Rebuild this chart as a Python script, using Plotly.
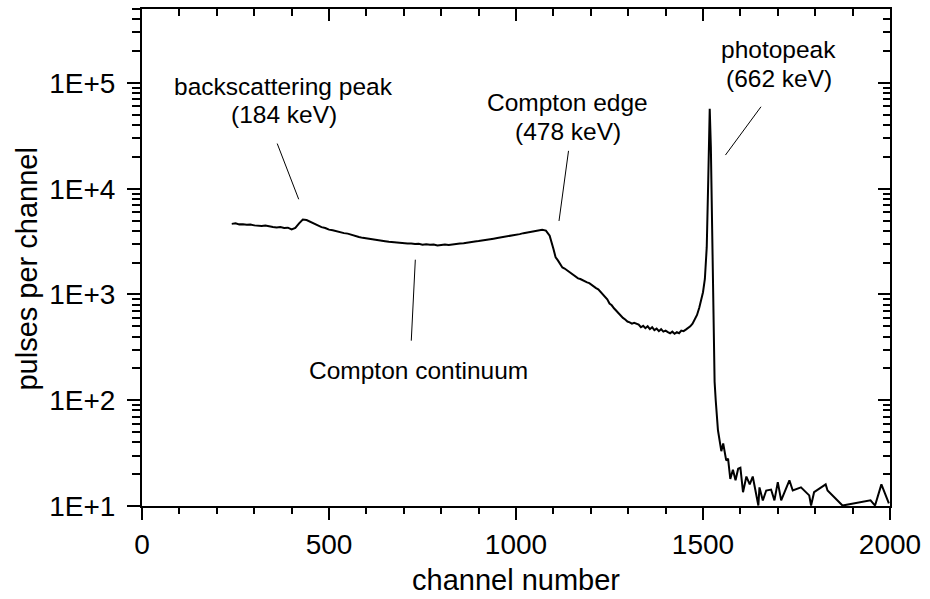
import numpy as np
import plotly.graph_objects as go

# ---- data ----
channel = [240, 250, 260, 270, 280, 290, 300, 310, 320, 330, 340, 350, 360, 370, 380, 390,
           400, 410, 420, 430, 440, 450, 460, 470, 480, 490, 500, 510, 520, 530, 540, 550,
           560, 570, 580, 590, 600, 610, 620, 630, 640, 650, 660, 670, 680, 690, 700, 710,
           720, 730, 740, 750, 760, 770, 780, 790, 800, 810, 820, 830, 840, 850, 860, 870,
           880, 890, 900, 910, 920, 930, 940, 950, 960, 970, 980, 990, 1000, 1010, 1020, 1030,
           1040, 1050, 1060, 1070, 1080, 1090, 1100, 1106, 1112, 1118, 1124, 1130, 1136, 1142,
           1148, 1154, 1160, 1166, 1172, 1178, 1184, 1190, 1196, 1202, 1208, 1214, 1220, 1226,
           1232, 1238, 1244, 1250, 1256, 1262, 1268, 1274, 1280, 1286, 1292, 1298, 1304, 1310,
           1316, 1322, 1328, 1334, 1340, 1346, 1352, 1358, 1364, 1370, 1376, 1382, 1388, 1394,
           1400, 1406, 1412, 1418, 1424, 1430, 1436, 1442, 1448, 1454, 1460, 1466, 1472, 1478,
           1484, 1490, 1496, 1500, 1505, 1510, 1514, 1518, 1521, 1524, 1527, 1531, 1534, 1540,
           1549, 1554, 1562, 1567, 1573, 1580, 1587, 1594, 1600, 1607, 1616, 1625, 1633, 1641,
           1648, 1651, 1660, 1669, 1682, 1691, 1700, 1709, 1720, 1731, 1740, 1762, 1784, 1789,
           1797, 1828, 1833, 1873, 1948, 1960, 1977, 1997]
pulses = [4650, 4700, 4600, 4620, 4560, 4580, 4500, 4470, 4430, 4480, 4380, 4350, 4300, 4340, 4250, 4280,
          4120, 4250, 4700, 5100, 5050, 4850, 4650, 4500, 4330, 4250, 4100, 4050, 3950, 3880, 3800, 3760,
          3650, 3560, 3500, 3430, 3380, 3360, 3300, 3250, 3220, 3190, 3150, 3120, 3090, 3100, 3050, 3030,
          3040, 3000, 3010, 2960, 2990, 2950, 2970, 2900, 2930, 2960, 2940, 2980, 3000, 3040, 3050, 3100,
          3110, 3170, 3200, 3230, 3280, 3320, 3370, 3420, 3460, 3500, 3560, 3640, 3680, 3720, 3800, 3850,
          3920, 3950, 4030, 4080, 4020, 3600, 2700, 2240, 2100, 1950, 1800, 1760, 1700, 1640,
          1600, 1540, 1480, 1420, 1400, 1360, 1340, 1300, 1280, 1230, 1180, 1150, 1120, 1060,
          1000, 930, 900, 820, 790, 740, 700, 660, 630, 600, 580, 555, 545, 530,
          540, 525, 520, 490, 505, 480, 500, 470, 490, 460, 475, 450, 470, 445,
          455, 440, 430, 445, 425, 440, 430, 455, 450, 465, 480, 500, 530, 580,
          640, 750, 900, 1050, 1400, 2800, 12000, 57000, 25000, 4000, 700, 150, 100, 52,
          33, 39, 27, 28, 18, 22, 17.5, 22.5, 23, 13.5, 19, 16, 19, 14,
          10.1, 15, 11.3, 14, 14.3, 11.3, 16.8, 11.3, 14, 17.5, 14, 15, 12.6, 10.1,
          13.5, 16, 14, 10.1, 11.3, 10.1, 16, 10.6]

y_major = [10, 100, 1000, 10000, 100000]
y_major_text = ["1E+1", "1E+2", "1E+3", "1E+4", "1E+5"]
y_minor = [k * 10 ** d for d in range(1, 6) for k in range(2, 10) if k * 10 ** d <= 5e5]
x_major = [0, 500, 1000, 1500, 2000]

# annotation texts: (text, channel, pulses)
labels = [
    ("backscattering peak", 379, 10**4.969),
    ("(184 keV)", 379, 10**4.703),
    ("Compton edge", 1138, 10**4.811),
    ("(478 keV)", 1138, 10**4.544),
    ("photopeak", 1703, 10**5.318),
    ("(662 keV)", 1703, 10**5.044),
    ("Compton continuum", 738, 10**2.280),
]
# pointer lines: (x_text_end, y_text_end, x_target, y_target)
pointers = [
    (360, 10**4.441, 419, 10**3.900),
    (731, 10**3.343, 720, 10**2.563),
    (1141, 10**4.372, 1115, 10**3.695),
    (1658, 10**4.789, 1560, 10**4.318),
]

FONT = "Liberation Sans, Arial, sans-serif"
YMAX = 5e5
L = np.log10  # vertical scale: decades
YR = [1.0, float(L(YMAX))]
major_pos = [float(L(v)) for v in y_major]
minor_pos = [float(L(v)) for v in y_minor]

fig = go.Figure()
fig.add_trace(go.Scatter(x=channel, y=L(np.array(pulses, dtype=float)), mode="lines",
                         line=dict(color="black", width=2), showlegend=False,
                         hoverinfo="skip"))
# helper traces so that every overlay subplot is drawn
for xa, ya in [("x2", "y2"), ("x3", "y3"), ("x4", "y4")]:
    fig.add_trace(go.Scatter(x=[-500], y=[3], xaxis=xa, yaxis=ya, mode="markers",
                             marker=dict(opacity=0), showlegend=False, hoverinfo="skip"))

ann = []
for t, cx, cy in labels:
    ann.append(dict(text=t, x=cx, y=float(L(cy)), xref="x", yref="y", showarrow=False,
                    xanchor="center", yanchor="middle",
                    font=dict(family=FONT, size=24.5, color="black")))
for x0, y0, x1, y1 in pointers:
    ann.append(dict(text="", x=x1, y=float(L(y1)), ax=x0, ay=float(L(y0)),
                    xref="x", yref="y", axref="x", ayref="y",
                    showarrow=True, arrowhead=0, arrowwidth=1, arrowcolor="black"))
ann.append(dict(text="channel number", x=0.4995, y=-0.149, xref="paper", yref="paper",
                showarrow=False, xanchor="center", yanchor="middle",
                font=dict(family=FONT, size=29, color="black")))
ann.append(dict(text="pulses per channel", x=-0.1536, y=0.476, xref="paper", yref="paper",
                showarrow=False, xanchor="center", yanchor="middle", textangle=-90,
                font=dict(family=FONT, size=29, color="black")))

common_x = dict(range=[0, 2000], autorange=False, showgrid=False, zeroline=False,
                showline=True, linecolor="black", linewidth=2, tickmode="array",
                tickvals=x_major, tickwidth=2, tickcolor="black")
common_y = dict(range=YR, autorange=False, showgrid=False, zeroline=False,
                showline=True, linecolor="black", linewidth=2, tickmode="array",
                tickvals=major_pos, tickwidth=2, tickcolor="black")
hidden_x = dict(range=[0, 2000], autorange=False, visible=True, showgrid=False,
                zeroline=False, showline=False, ticks="", showticklabels=False,
                overlaying="x")
minor_y = dict(range=YR, autorange=False, showgrid=False, zeroline=False, showline=False,
               tickmode="array", tickvals=minor_pos, showticklabels=False, tickwidth=2,
               tickcolor="black", overlaying="y")

fig.update_layout(
    width=930, height=599,
    margin=dict(l=142, r=36, t=9, b=93),
    paper_bgcolor="white", plot_bgcolor="white",
    font=dict(family=FONT, size=28, color="black"),
    xaxis=dict(**common_x, ticks="outside", ticklen=12, tickfont=dict(size=28),
               minor=dict(ticks="outside", ticklen=6, tickwidth=2, tickcolor="black",
                          dtick=100, showgrid=False)),
    yaxis=dict(**common_y, ticktext=y_major_text, ticks="outside", ticklen=13,
               tickfont=dict(size=28), ticklabelstandoff=6,
               minor=dict(tickmode="array", tickvals=minor_pos, ticks="outside",
                          ticklen=8, tickwidth=2, tickcolor="black", showgrid=False)),
    xaxis2=dict(**common_x, overlaying="x", anchor="y2", side="top", ticks="inside",
                ticklen=12, showticklabels=False,
                minor=dict(ticks="inside", ticklen=7, tickwidth=2, tickcolor="black",
                           dtick=100, showgrid=False)),
    yaxis2=dict(**common_y, overlaying="y", anchor="x2", side="right", ticks="inside",
                ticklen=12, showticklabels=False,
                minor=dict(tickmode="array", tickvals=minor_pos, ticks="inside",
                           ticklen=7, tickwidth=2, tickcolor="black", showgrid=False)),
    xaxis3=dict(**hidden_x, anchor="y3", side="bottom"),
    yaxis3=dict(**minor_y, anchor="x3", side="left", ticks="outside", ticklen=8),
    xaxis4=dict(**hidden_x, anchor="y4", side="top"),
    yaxis4=dict(**minor_y, anchor="x4", side="right", ticks="inside", ticklen=7),
    annotations=ann,
)

fig.write_html("out.html")
